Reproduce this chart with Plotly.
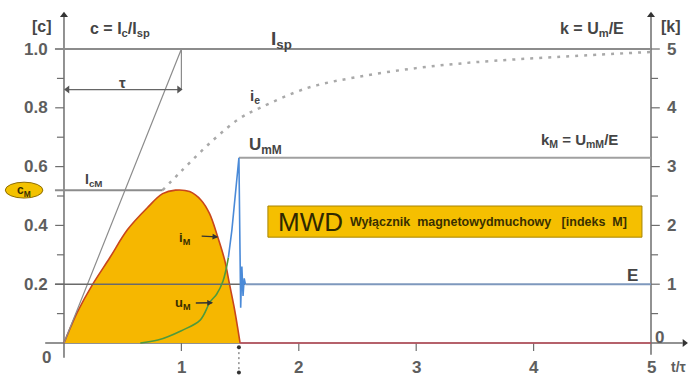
import plotly.graph_objects as go

# ---------------------------------------------------------------- scales
X_RANGE = [-0.5451, 5.3152]        # t / tau
C_RANGE = [-0.1122, 1.1667]        # c = I/Isp  (left scale)
K_PER_C = 5.0                      # k = U/E    (right scale) = 5 * c
K_RANGE = [v * K_PER_C for v in C_RANGE]

# ---------------------------------------------------------------- ticks
x_ticks = [1, 2, 3, 4, 5]
x_tick_labels = ["1", "2", "3", "4", "5"]
c_ticks = [0.2, 0.4, 0.6, 0.8, 1.0]
c_tick_labels = ["0.2", "0.4", "0.6", "0.8", "1.0"]
c_minor = [0.1, 0.3, 0.5, 0.7, 0.9]
k_ticks = [1, 2, 3, 4, 5]
k_tick_labels = ["1", "2", "3", "4", "5"]
k_minor = [0.5, 1.5, 2.5, 3.5, 4.5]

# ---------------------------------------------------------------- levels
I_SP = 1.0          # steady short-circuit current
C_M = 0.52          # cut-off current ratio
K_M = 3.15          # overvoltage ratio
E_K = 1.0           # source voltage on k scale
TAU = 1.0
TAU_ARROW_C = 0.862
T_END = 1.50        # arc extinction

# prospective current i_e (continuation after the breaker limits it)
t_ie = [0.84, 1.0, 1.27, 1.5, 1.67, 2.07, 2.5, 3.0, 3.5, 4.2, 5.0]
c_ie = [0.52, 0.585, 0.69, 0.765, 0.80, 0.867, 0.905, 0.935, 0.955, 0.973, 0.99]

# breaker current i_M
t_iM = [0.0, 0.05, 0.12, 0.24, 0.39, 0.54, 0.71, 0.84, 0.95, 1.07, 1.17, 1.24,
        1.31, 1.37, 1.41, 1.45, 1.48, 1.50]
c_iM = [0.0, 0.048, 0.11, 0.197, 0.29, 0.385, 0.46, 0.508, 0.52, 0.515, 0.485, 0.44,
        0.36, 0.28, 0.20, 0.12, 0.05, 0.0]

# arc voltage u_M (k scale)
t_uM = [0.65, 0.8, 1.0, 1.16, 1.245, 1.30, 1.354, 1.40]
k_uM = [0.0, 0.05, 0.21, 0.39, 0.70, 0.83, 1.05, 1.45]

# voltage overshoot at extinction (k scale)
t_os = [1.40, 1.43, 1.49, 1.505, 1.515, 1.525, 1.535, 1.545]
k_os = [1.45, 1.92, 3.15, 0.60, 1.30, 0.80, 1.10, 1.0]

FONT = "Liberation Sans, Arial, sans-serif"
TXT = "#454545"
GRAY = "#8c8c8c"
AXIS = "#6e6e6e"

fig = go.Figure()

# filled breaker current
fig.add_trace(go.Scatter(
    x=t_iM, y=c_iM, mode="lines", fill="toself", fillcolor="#F6B700",
    line=dict(color="#C8461C", width=1.6, shape="spline", smoothing=1.0),
    hoverinfo="skip"))
# zero current after extinction
fig.add_trace(go.Scatter(x=[T_END, 5], y=[0, 0], mode="lines",
                         line=dict(color="#C0505E", width=1.6), hoverinfo="skip"))

# tangent with time constant
fig.add_trace(go.Scatter(x=[0, TAU, TAU], y=[0, I_SP, TAU_ARROW_C], mode="lines",
                         line=dict(color=GRAY, width=1.2), hoverinfo="skip"))
fig.add_trace(go.Scatter(
    x=[0.03, TAU - 0.02], y=[TAU_ARROW_C, TAU_ARROW_C], mode="lines+markers",
    line=dict(color="#666", width=1.2),
    marker=dict(symbol=["triangle-left", "triangle-right"], size=7, color="#555"),
    hoverinfo="skip"))

# Isp level
fig.add_trace(go.Scatter(x=[-0.077, 5], y=[I_SP, I_SP], mode="lines",
                         line=dict(color=GRAY, width=2), hoverinfo="skip"))
# prospective current
fig.add_trace(go.Scatter(x=t_ie, y=c_ie, mode="lines",
                         line=dict(color="#a9a9a9", width=2.5, dash="3px,6px", shape="spline"),
                         hoverinfo="skip"))
# IcM level
fig.add_trace(go.Scatter(x=[-0.077, 0.84], y=[C_M, C_M], mode="lines",
                         line=dict(color=GRAY, width=2), hoverinfo="skip"))

# E level (left part, over the fill)
fig.add_trace(go.Scatter(x=[-0.077, 1.545], y=[E_K, E_K], yaxis="y2", mode="lines",
                         line=dict(color="#6a6a6a", width=1.6), hoverinfo="skip"))
# E level (after extinction)
fig.add_trace(go.Scatter(x=[1.545, 5], y=[E_K, E_K], yaxis="y2", mode="lines",
                         line=dict(color="#7e98bd", width=2), hoverinfo="skip"))
# UmM level
fig.add_trace(go.Scatter(x=[1.49, 5], y=[K_M, K_M], yaxis="y2", mode="lines",
                         line=dict(color="#a0a0a0", width=2), hoverinfo="skip"))
# arc voltage
fig.add_trace(go.Scatter(x=t_uM, y=k_uM, yaxis="y2", mode="lines",
                         line=dict(color="#4f9a3c", width=1.6, shape="spline"),
                         hoverinfo="skip"))
# overshoot
fig.add_trace(go.Scatter(x=t_os, y=k_os, yaxis="y2", mode="lines",
                         line=dict(color="#4a8ad8", width=1.6), hoverinfo="skip"))

# axis arrow heads
fig.add_trace(go.Scatter(x=[0, 5, 5.285], y=[1.115, 1.115, 0], mode="markers",
                         marker=dict(symbol=["triangle-up", "triangle-up", "triangle-right"],
                                     size=7, color="#333"), hoverinfo="skip"))
# extinction marker below the axis
fig.add_trace(go.Scatter(x=[1.49, 1.49], y=[-0.014, -0.1], mode="lines+markers",
                         line=dict(color="#555", width=1, dash="2px,3px"),
                         marker=dict(size=4, color="#333"), hoverinfo="skip"))

shapes = []
# axis lines
shapes.append(dict(type="line", xref="x", yref="y", x0=0, x1=0, y0=-0.05, y1=1.11,
                   line=dict(color=AXIS, width=1.5), layer="below"))
shapes.append(dict(type="line", xref="x", yref="y", x0=5, x1=5, y0=-0.04, y1=1.11,
                   line=dict(color=AXIS, width=1.5), layer="below"))
shapes.append(dict(type="line", xref="x", yref="y", x0=-0.16, x1=5.27, y0=0, y1=0,
                   line=dict(color=AXIS, width=1.5), layer="below"))
# tick marks
for v in c_ticks:
    shapes.append(dict(type="line", xref="x", yref="y", x0=-0.075, x1=0, y0=v, y1=v,
                       line=dict(color=AXIS, width=1.2), layer="below"))
for v in c_minor:
    shapes.append(dict(type="line", xref="x", yref="y", x0=-0.06, x1=0, y0=v, y1=v,
                       line=dict(color=AXIS, width=1.2), layer="below"))
for v in k_ticks:
    shapes.append(dict(type="line", xref="x", yref="y2", x0=5, x1=5.075, y0=v, y1=v,
                       line=dict(color=AXIS, width=1.2), layer="below"))
for v in k_minor:
    shapes.append(dict(type="line", xref="x", yref="y2", x0=5, x1=5.06, y0=v, y1=v,
                       line=dict(color=AXIS, width=1.2), layer="below"))
for v in x_ticks[:-1]:
    shapes.append(dict(type="line", xref="x", yref="y", x0=v, x1=v, y0=0, y1=-0.027,
                       line=dict(color=AXIS, width=1.2), layer="below"))
# MWD label box
shapes.append(dict(type="rect", xref="x", yref="y", x0=1.737, x1=4.923, y0=0.360, y1=0.466,
                   fillcolor="#F5BF00", line=dict(color="#A88400", width=1)))
# cM badge
shapes.append(dict(type="circle", xref="x", yref="y", x0=-0.50, x1=-0.18, y0=0.493, y1=0.547,
                   fillcolor="#F3C200", line=dict(color="#8f6d00", width=1)))

ann = []


def label(x, y, text, size=16, yref="y", xanchor="center", color=TXT, bold=True):
    ann.append(dict(x=x, y=y, xref="x", yref=yref, text=text, showarrow=False,
                    xanchor=xanchor, yanchor="middle",
                    font=dict(family=FONT, size=size, color=color,
                              weight="bold" if bold else "normal")))


# tick labels
for v, s in zip(c_ticks, c_tick_labels):
    label(-0.115, v, s, size=17, xanchor="right", color="#5e5e5e")
for v, s in zip(k_ticks, k_tick_labels):
    label(5.12, v, s, size=17, yref="y2", xanchor="left", color="#5e5e5e")
for v, s in zip(x_ticks, x_tick_labels):
    label(v, -0.082, s, size=17, color="#5e5e5e")
label(-0.145, -0.05, "0", size=17, color="#5e5e5e")
label(5.07, 0.1, "0", size=17, yref="y2", color="#5e5e5e")
label(5.235, -0.082, "t/τ", size=14, color="#5e5e5e")
label(-0.187, 1.078, "[c]", size=16)
label(5.17, 1.078, "[k]", size=16)

# curve / level labels
label(0.475, 1.065, "c = I<sub>c</sub>/I<sub>sp</sub>", size=16)
label(1.85, 1.03, "I<sub>sp</sub>", size=19)
label(1.63, 0.838, "i<sub>e</sub>", size=15)
label(0.50, 0.885, "τ", size=15)
label(4.50, 1.065, "k = U<sub>m</sub>/E", size=16)
label(4.395, 0.690, "k<sub>M</sub> = U<sub>mM</sub>/E", size=15)
label(1.72, 0.670, "U<sub>mM</sub>", size=17)
label(0.255, 0.554, "I<sub>cM</sub>", size=14)
label(-0.34, 0.518, "c<sub>M</sub>", size=12, color="#3a2f00")
label(1.03, 0.357, "i<sub>M</sub>", size=13, color="#3a2f00")
label(1.01, 0.133, "u<sub>M</sub>", size=13, color="#3a2f00")
label(4.84, 0.23, "E", size=17)
label(1.81, 0.413, "MWD", size=26, xanchor="left", color="#2f2800", bold=False)
label(2.42, 0.413,
      "Wyłącznik\u00a0\u00a0magnetowydmuchowy\u00a0\u00a0\u00a0[indeks\u00a0\u00a0M]",
      size=12.5, xanchor="left", color="#3a3000")

# small pointer arrows
for (xa, ya, xb, yb) in [(1.16, 0.364, 1.315, 0.361), (1.11, 0.136, 1.27, 0.137)]:
    ann.append(dict(x=xb, y=yb, ax=xa, ay=ya, xref="x", yref="y", axref="x", ayref="y",
                    text="", showarrow=True, arrowhead=2, arrowsize=0.9, arrowwidth=1.3,
                    arrowcolor="#333"))

fig.update_layout(
    width=688, height=376,
    margin=dict(l=0, r=0, t=0, b=0),
    paper_bgcolor="white", plot_bgcolor="white",
    showlegend=False,
    xaxis=dict(range=X_RANGE, visible=False, fixedrange=True),
    yaxis=dict(range=C_RANGE, visible=False, fixedrange=True),
    yaxis2=dict(range=K_RANGE, visible=False, overlaying="y", fixedrange=True),
    shapes=shapes,
    annotations=ann,
)

fig.write_html("out.html")
